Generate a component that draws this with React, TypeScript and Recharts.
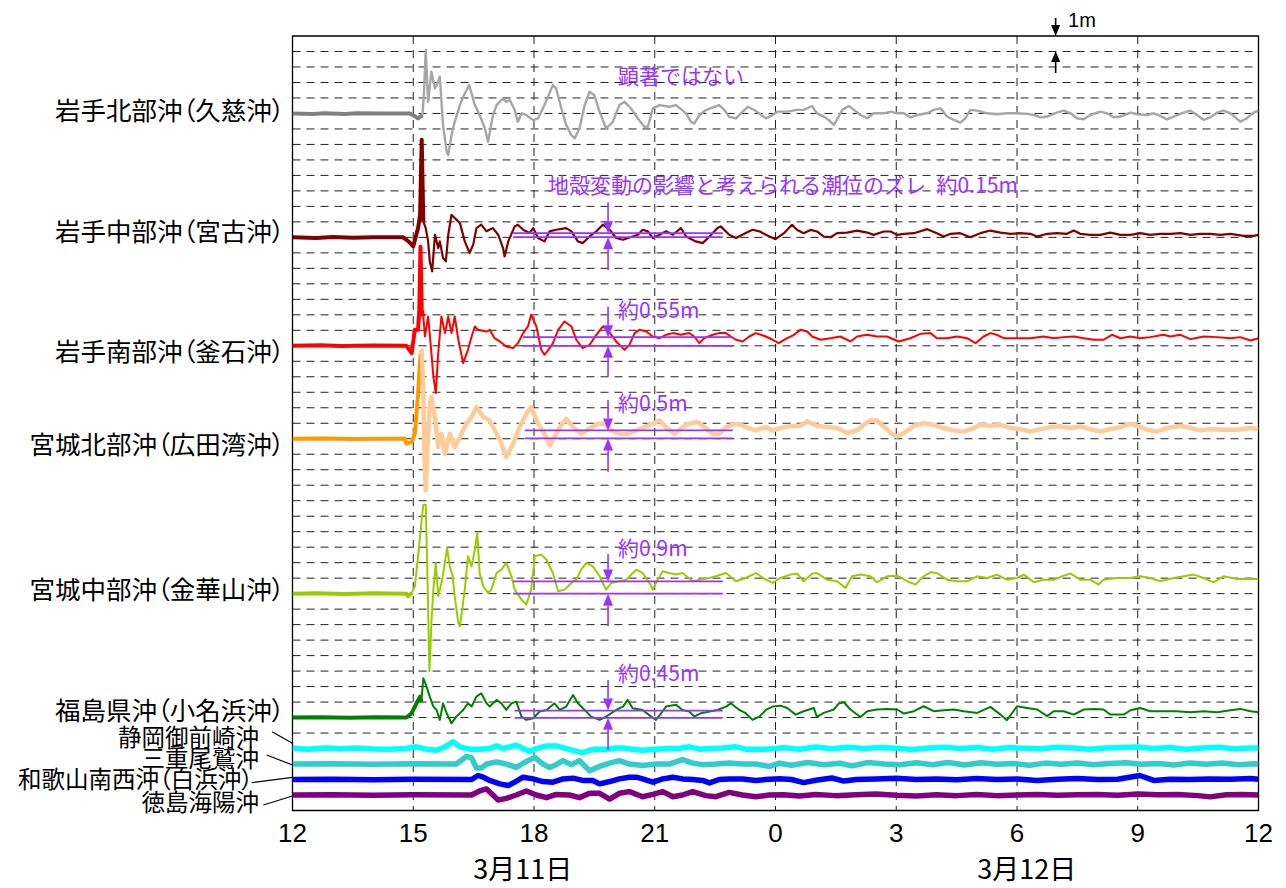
import React from 'react';
import {
  LineChart,
  Line,
  XAxis,
  YAxis,
  CartesianGrid,
  ReferenceLine,
  ReferenceDot,
  ReferenceArea,
} from 'recharts';

type P = [number, number];

// ---- time axis: hours since 3/11 12:00 ----
const TIME_TICKS = [0, 3, 6, 9, 12, 15, 18, 21, 24];
const TIME_LABELS = ['12', '15', '18', '21', '0', '3', '6', '9', '12'];
const DATE_LABELS = ['3月11日', '3月12日'];
const DATE_POS: P[] = [[5.72, -3.78], [18.24, -3.78]];
const GRID_Y = Array.from({ length: 45 }, (_, i) => i + 5);
const GRID_X = [3, 6, 9, 12, 15, 18, 21];

// ---- stations ----
const STATION_NAMES = [
  '岩手北部沖（久慈沖）',
  '岩手中部沖（宮古沖）',
  '岩手南部沖（釜石沖）',
  '宮城北部沖（広田湾沖）',
  '宮城中部沖（金華山沖）',
  '福島県沖（小名浜沖）',
  '静岡御前崎沖',
  '三重尾鷲沖',
  '和歌山南西沖（白浜沖）',
  '徳島海陽沖',
];
const STATION_BASES = [45, 37, 30, 24, 14, 6, 4, 3, 2, 1];
const SPLIT_TIMES: (number | null)[] = [3.23, 3.25, 3.25, 3.18, 2.96, 3.2, null, null, null, null];

// tide anomaly (m) [hour, metres]
const KUJI: P[] = [[0,0],[0.5,-0.04],[0.8,0.02],[1.3,-0.04],[1.6,0.01],[2.2,0],[2.92,0],[3.05,-0.2],[3.12,-0.32],[3.23,-0.1],[3.27,1.5],[3.31,4.09],[3.37,0.75],[3.45,2.69],[3.54,1.61],[3.62,2.04],[3.66,2.37],[3.74,-0.75],[3.83,-2.47],[3.87,-2.69],[3.95,-1.4],[4.03,-0.54],[4.16,0.54],[4.24,1.08],[4.39,1.83],[4.53,0.54],[4.65,-0.11],[4.78,-0.97],[4.86,-1.83],[4.98,-0.11],[5.07,0.54],[5.23,0.97],[5.31,0.75],[5.4,0.86],[5.52,0.22],[5.6,-0.54],[5.69,0],[5.81,-0.11],[5.98,-0.43],[6.1,-0.32],[6.26,0.54],[6.47,1.83],[6.55,1.61],[6.68,0.32],[6.8,-0.75],[6.93,-1.4],[7.01,-1.61],[7.13,-0.97],[7.26,0.54],[7.38,1.4],[7.5,1.18],[7.63,0.11],[7.79,-0.97],[7.96,-0.54],[8.12,0.54],[8.25,0.75],[8.41,0.32],[8.58,-0.32],[8.74,-0.86],[8.83,-0.86],[8.95,0.32],[9.12,0.54],[9.36,0.43],[9.53,0.54],[9.78,0],[9.9,-0.54],[9.98,-0.65],[10.11,-0.11],[10.27,0.22],[10.48,0.43],[10.6,0.54],[10.73,0.22],[10.85,-0.22],[11.02,-0.32],[11.14,0],[11.31,0.43],[11.47,0.22],[11.6,0],[11.76,-0.32],[11.93,-0.11],[12.04,0.12],[12.29,0.12],[12.54,0.23],[12.7,0.23],[12.91,0.48],[13.03,0.01],[13.2,-0.2],[13.32,-0.42],[13.45,-0.74],[13.57,-0.2],[13.66,0.23],[13.82,0.48],[13.95,0.23],[14.11,-0.1],[14.28,-0.31],[14.44,0.01],[14.69,0.01],[14.86,0.12],[15.02,0.01],[15.19,0.01],[15.35,-0.25],[15.52,-0.1],[15.77,0.01],[15.93,0.23],[16.1,0.33],[16.26,-0.2],[16.43,-0.42],[16.59,-0.59],[16.72,-0.31],[16.84,0.23],[17.01,0.18],[17.26,0.01],[17.5,-0.05],[17.75,0.01],[18,0.01],[18.25,-0.03],[18.42,-0.1],[18.58,-0.25],[18.75,-0.2],[18.99,0.05],[19.16,0.18],[19.33,0.01],[19.49,-0.31],[19.66,-0.38],[19.82,-0.1],[20.07,0.12],[20.24,0.01],[20.4,-0.25],[20.57,-0.2],[20.82,0.05],[20.98,-0.05],[21.23,-0.1],[21.4,0.01],[21.56,-0.16],[21.73,-0.38],[21.89,-0.2],[22.14,0.05],[22.31,0.18],[22.47,-0.1],[22.64,-0.42],[22.8,-0.25],[22.97,0.05],[23.13,0.18],[23.3,0.01],[23.55,-0.53],[23.71,-0.31],[23.88,0.05],[24,0.18]];

const MIYAKO: P[] = [[0,0],[0.6,-0.04],[1,0.02],[1.5,-0.03],[2,0],[2.75,0],[2.9,-0.3],[3,-0.58],[3.12,0.6],[3.17,1.46],[3.21,6.3],[3.25,1.03],[3.31,0.6],[3.37,-0.26],[3.41,-1.55],[3.47,-2.19],[3.54,0.17],[3.62,-0.69],[3.66,-0.26],[3.74,-1.33],[3.81,-1.55],[3.87,0.17],[3.95,1.46],[4.03,1.25],[4.16,0.92],[4.28,-0.26],[4.4,-1.01],[4.49,-0.47],[4.57,0.6],[4.69,0.82],[4.82,0.39],[4.98,0.6],[5.11,0.17],[5.23,-0.69],[5.27,-1.23],[5.36,-0.26],[5.52,0.71],[5.6,0.82],[5.73,0.49],[5.89,0.28],[5.98,0.6],[6.1,-0.04],[6.26,-0.26],[6.39,0.39],[6.55,0.49],[6.8,0.6],[6.93,0.39],[7.09,-0.26],[7.21,-0.37],[7.38,0.06],[7.55,0.39],[7.71,0.82],[7.88,0.49],[8.04,-0.04],[8.21,-0.15],[8.45,0.06],[8.58,0.17],[8.7,0.49],[8.83,0.39],[8.95,-0.04],[9.12,0.17],[9.28,0.39],[9.45,0.17],[9.65,0.6],[9.78,0.06],[10.02,-0.26],[10.19,-0.37],[10.36,0.06],[10.56,0.6],[10.64,0.71],[10.85,0.17],[11.02,-0.04],[11.26,0.28],[11.43,0.49],[11.6,0.39],[11.76,0.17],[12,-0.12],[12.21,0.27],[12.41,0.81],[12.54,0.48],[12.7,0.27],[12.87,0.48],[13.03,0.38],[13.2,0.05],[13.37,0.01],[13.53,0.27],[13.78,0.31],[14.03,0.44],[14.28,0.31],[14.44,0.16],[14.69,0.38],[14.86,0.38],[15.02,0.16],[15.19,0.23],[15.44,0.27],[15.77,0.53],[16.01,0.27],[16.18,0.05],[16.35,0.23],[16.59,0.27],[16.84,0.01],[17.09,0.27],[17.34,0.44],[17.59,0.31],[17.84,0.23],[18.08,0.27],[18.33,0.23],[18.5,0.05],[18.75,0.23],[18.99,0.27],[19.24,0.23],[19.41,0.44],[19.57,0.23],[19.82,0.16],[20.07,0.16],[20.32,0.31],[20.57,0.16],[20.82,0.16],[21.06,0.27],[21.31,0.16],[21.56,0.23],[21.81,0.23],[22.06,0.27],[22.31,0.16],[22.55,0.23],[22.8,0.23],[23.05,0.16],[23.3,0.23],[23.63,0.1],[23.88,0.1],[24,0.16]];

const KAMAISHI: P[] = [[0,0],[0.7,0.03],[1.2,-0.02],[2,0.02],[2.83,0],[2.96,-0.47],[3.04,1.03],[3.12,1.03],[3.15,2.3],[3.18,6.4],[3.21,2.3],[3.25,1.89],[3.29,0.6],[3.37,1.89],[3.43,0.17],[3.5,-1.98],[3.56,-3.05],[3.62,-0.47],[3.7,1.89],[3.79,0.82],[3.87,1.89],[3.95,0.82],[4.03,1.89],[4.12,0.39],[4.24,-1.12],[4.36,-0.26],[4.45,0.6],[4.53,1.25],[4.61,1.03],[4.82,0.92],[4.9,1.03],[5.02,0.49],[5.15,0.28],[5.31,-0.04],[5.48,-0.15],[5.6,0.17],[5.73,0.82],[5.85,1.25],[5.93,2],[6.06,1.25],[6.18,-0.26],[6.26,-0.58],[6.39,-0.15],[6.47,0.17],[6.6,1.03],[6.76,1.57],[6.93,1.25],[7.05,0.39],[7.21,-0.15],[7.38,0.06],[7.55,0.71],[7.71,1.25],[7.83,1.03],[8.04,0.28],[8.25,-0.26],[8.37,0.06],[8.5,0.82],[8.62,1.03],[8.79,0.92],[8.95,0.6],[9.12,0.49],[9.28,0.71],[9.45,0.82],[9.65,0.71],[9.86,0.82],[9.98,0.6],[10.11,0.17],[10.23,0.49],[10.44,0.71],[10.6,0.82],[10.77,0.82],[10.89,0.6],[11.02,0.39],[11.18,0.28],[11.35,0.6],[11.51,0.82],[11.64,0.71],[11.76,0.6],[11.93,0.39],[12.08,0.17],[12.29,0.49],[12.46,0.71],[12.62,1.03],[12.79,0.92],[12.91,0.6],[13.12,0.39],[13.37,0.49],[13.61,0.6],[13.86,0.28],[14.03,0.6],[14.28,0.71],[14.52,0.6],[14.77,0.6],[15.06,0.28],[15.35,0.49],[15.6,0.77],[15.85,0.82],[16.01,0.49],[16.26,0.49],[16.51,0.6],[16.76,0.49],[16.97,0.17],[17.17,0.6],[17.34,0.82],[17.5,0.71],[17.67,0.49],[18,0.49],[18.33,0.49],[18.66,0.6],[18.91,0.49],[19.16,0.56],[19.41,0.6],[19.66,0.49],[19.91,0.39],[20.15,0.39],[20.36,0.71],[20.57,0.49],[20.82,0.6],[21.06,0.49],[21.31,0.56],[21.64,0.71],[21.81,0.6],[22.06,0.71],[22.31,0.43],[22.64,0.6],[22.97,0.56],[23.3,0.49],[23.55,0.56],[23.8,0.34],[24,0.49]];

const HIROTA: P[] = [[0,0],[0.8,0.02],[1.5,-0.02],[2.2,0],[2.79,0],[2.83,-0.32],[2.96,-0.22],[3.04,0.32],[3.12,2.9],[3.18,5.48],[3.21,5.7],[3.25,2.9],[3.28,-1.4],[3.31,-3.33],[3.36,-0.32],[3.41,2.26],[3.45,2.69],[3.54,1.4],[3.62,-0.54],[3.7,0.32],[3.79,-0.97],[3.91,0.32],[4.03,-0.54],[4.16,0.11],[4.32,0.97],[4.45,1.4],[4.57,2.04],[4.74,1.4],[4.9,1.18],[5.07,0.32],[5.19,-0.32],[5.31,-1.18],[5.48,-0.32],[5.64,0.75],[5.81,1.61],[5.93,2.04],[6.1,0.97],[6.26,0.32],[6.39,-0.43],[6.51,0.11],[6.64,0.75],[6.8,1.29],[6.97,0.75],[7.17,0.32],[7.38,0.65],[7.59,0.97],[7.75,0.97],[7.92,0.54],[8.12,0.32],[8.33,0.32],[8.54,0.54],[8.74,0.75],[8.95,0.97],[9.12,1.18],[9.28,0.75],[9.49,0.32],[9.69,0.75],[9.86,0.97],[10.07,1.08],[10.23,0.75],[10.44,0.32],[10.6,0.32],[10.77,0.75],[11.02,0.97],[11.18,0.86],[11.35,0.65],[11.51,0.54],[11.76,0.75],[11.93,0.54],[12.12,0.69],[12.37,0.8],[12.62,0.84],[12.79,1.12],[13.03,0.84],[13.28,0.75],[13.53,0.69],[13.78,0.37],[14.03,0.54],[14.19,0.9],[14.36,1.18],[14.52,1.18],[14.69,0.8],[14.86,0.37],[15.02,0.15],[15.19,0.37],[15.44,0.84],[15.68,1.01],[15.93,0.9],[16.18,0.69],[16.43,0.54],[16.68,0.47],[16.93,0.69],[17.09,0.9],[17.34,0.84],[17.59,0.9],[17.84,0.69],[18.08,0.62],[18.33,0.47],[18.58,0.62],[18.83,0.75],[19.08,0.8],[19.33,0.69],[19.57,0.8],[19.82,0.62],[20.07,0.47],[20.32,0.62],[20.57,0.75],[20.82,0.97],[20.98,0.84],[21.23,0.58],[21.48,0.47],[21.73,0.69],[22.06,0.84],[22.31,0.69],[22.55,0.54],[22.8,0.62],[23.13,0.58],[23.47,0.58],[23.8,0.69],[24,0.62]];

const KINKASAN: P[] = [[0,0],[0.6,0.03],[1.3,-0.02],[2,0.02],[2.83,0],[2.87,-0.17],[2.96,0.04],[3.04,0.47],[3.12,2.41],[3.21,4.77],[3.25,5.74],[3.31,5.74],[3.36,0.26],[3.4,-5.01],[3.43,-3.4],[3.45,-1.89],[3.5,0.26],[3.56,1.98],[3.62,-0.17],[3.7,0.69],[3.76,1.55],[3.84,2.95],[3.91,1.76],[3.98,1.12],[4.03,-0.17],[4.12,-1.89],[4.16,-2.11],[4.28,0.26],[4.36,2.41],[4.45,1.76],[4.53,2.84],[4.59,3.91],[4.65,1.33],[4.74,0.47],[4.86,0.04],[4.94,0.26],[5.07,1.33],[5.19,1.55],[5.31,1.98],[5.44,1.12],[5.52,0.26],[5.69,-0.39],[5.81,-0.71],[5.93,0.26],[6.02,2.41],[6.18,2.52],[6.31,2.19],[6.47,1.33],[6.6,0.15],[6.76,0.26],[6.93,0.69],[7.05,0.9],[7.17,1.55],[7.3,1.98],[7.46,1.76],[7.63,1.12],[7.79,0.26],[7.92,0.69],[8.12,0.8],[8.29,0.9],[8.54,1.55],[8.7,1.33],[8.87,0.69],[8.95,0.26],[9.07,0.9],[9.2,1.44],[9.36,1.33],[9.53,1.23],[9.69,1.33],[9.94,0.8],[10.11,0.9],[10.36,1.01],[10.52,1.12],[10.77,1.33],[11.02,0.8],[11.26,1.01],[11.51,1.33],[11.76,0.9],[11.93,0.69],[12.12,1.01],[12.37,1.23],[12.54,1.29],[12.7,0.8],[12.91,1.29],[13.03,1.33],[13.28,0.9],[13.53,0.8],[13.74,0.37],[13.9,1.12],[14.11,1.23],[14.36,1.12],[14.52,0.73],[14.77,1.12],[15.02,1.16],[15.27,0.8],[15.48,0.58],[15.68,1.12],[15.85,1.38],[16.01,1.33],[16.26,0.9],[16.51,0.8],[16.76,0.8],[17.01,1.12],[17.26,1.01],[17.5,1.23],[17.75,0.9],[18,1.01],[18.17,1.23],[18.42,0.73],[18.66,0.9],[18.91,0.9],[19.16,1.16],[19.33,1.29],[19.57,0.9],[19.82,0.9],[20.03,0.58],[20.15,0.9],[20.49,1.01],[20.82,1.01],[21.06,1.12],[21.31,1.01],[21.56,0.8],[21.89,1.01],[22.14,1.12],[22.39,1.23],[22.64,1.01],[22.89,0.73],[23.13,1.12],[23.47,0.95],[23.8,0.95],[24,0.95]];

const ONAHAMA: P[] = [[0,0],[0.7,0.02],[1.4,-0.02],[2.1,0.02],[2.83,0],[2.96,0.28],[3.08,0.92],[3.17,1.35],[3.2,1],[3.25,2.54],[3.33,2],[3.41,1.35],[3.5,0.71],[3.58,0.49],[3.66,-0.15],[3.74,0.92],[3.83,0.28],[3.95,-0.37],[4.07,0.06],[4.24,0.49],[4.36,0.92],[4.45,0.71],[4.57,1.35],[4.69,1.57],[4.82,0.92],[4.9,0.71],[5.07,1.14],[5.19,0.92],[5.31,0.49],[5.44,0.92],[5.56,1.03],[5.69,0.06],[5.81,-0.15],[5.98,-0.04],[6.14,0.39],[6.31,0.49],[6.51,0.92],[6.64,0.49],[6.8,0.71],[6.97,1.46],[7.09,0.92],[7.26,0.49],[7.42,0.06],[7.63,-0.15],[7.79,0.06],[8.04,0.49],[8.21,0.71],[8.33,1.14],[8.45,0.6],[8.7,0.49],[8.91,0.06],[9.03,-0.15],[9.16,0.28],[9.28,0.71],[9.53,0.82],[9.69,0.49],[9.86,0.39],[9.98,0.06],[10.15,0.28],[10.36,0.39],[10.56,0.49],[10.77,0.71],[10.89,0.92],[11.1,0.49],[11.26,0.28],[11.43,-0.15],[11.6,0.06],[11.76,0.49],[11.93,0.71],[12.12,0.77],[12.29,0.62],[12.5,0.19],[12.7,0.41],[12.95,0.62],[13.03,0.04],[13.2,0.3],[13.45,0.52],[13.57,0.9],[13.7,0.99],[13.86,0.52],[14.11,0.04],[14.28,0.41],[14.52,0.52],[14.77,0.56],[15.02,0.52],[15.19,0.26],[15.44,0.41],[15.68,0.73],[15.93,0.41],[16.18,0.47],[16.43,0.52],[16.68,0.41],[17.01,0.3],[17.34,0.69],[17.59,0.19],[17.75,-0.17],[18,0.73],[18.25,0.62],[18.5,0.52],[18.75,0.09],[18.91,0.41],[19.16,0.41],[19.41,0.19],[19.66,0.52],[19.91,0.56],[20.15,0.52],[20.32,0.19],[20.65,0.19],[20.82,0.47],[21.06,0.62],[21.31,0.41],[21.64,0.41],[21.97,0.41],[22.31,0.34],[22.64,0.41],[22.97,0.34],[23.3,0.47],[23.55,0.56],[23.8,0.41],[24,0.34]];

const OMAEZAKI: P[] = [[0,0.02],[0.4,-0.04],[0.8,0.03],[1.2,-0.02],[1.6,0.04],[2,-0.03],[2.42,-0.04],[2.83,0],[3.08,0.11],[3.33,-0.04],[3.58,-0.11],[3.79,0.11],[3.99,0.43],[4.16,0.11],[4.4,-0.04],[4.65,-0.04],[4.9,0],[5.07,0.17],[5.23,0],[5.4,0.11],[5.56,0.22],[5.73,0],[5.89,-0.17],[6.06,0],[6.31,0.17],[6.55,0.17],[6.8,0],[7.05,-0.17],[7.21,-0.26],[7.38,-0.11],[7.55,-0.04],[7.79,-0.04],[8.04,0.04],[8.21,0.04],[8.45,-0.04],[8.7,-0.11],[9.03,-0.04],[9.36,0],[9.61,0],[9.86,0.11],[10.11,-0.04],[10.36,0],[10.69,0.04],[11.02,0.11],[11.26,-0.04],[11.51,-0.04],[11.76,-0.04],[12.2,0.05],[12.6,-0.05],[13,0.1],[13.4,-0.02],[13.8,0.08],[14.2,0],[14.6,0.06],[15,0.02],[15.4,-0.06],[15.8,0.04],[16.2,0.08],[16.6,0],[17,0.06],[17.4,-0.04],[17.8,0.06],[18.2,0.02],[18.6,-0.02],[19,0.08],[19.4,0.04],[19.8,-0.04],[20.2,0.04],[20.6,0.06],[21,0.1],[21.4,0],[21.8,0.06],[22.2,-0.04],[22.6,0.04],[23,0.08],[23.4,-0.02],[23.8,0.04],[24,0.04]];

const OWASE: P[] = [[0,0],[1,0.02],[2,-0.02],[3,0.02],[4.07,0],[4.32,0.49],[4.45,0.39],[4.57,-0.26],[4.69,-0.26],[4.82,0],[5.07,0.13],[5.31,0],[5.56,-0.22],[5.81,0.17],[6.02,0.43],[6.22,0],[6.39,-0.22],[6.55,-0.04],[6.72,0.22],[6.93,-0.04],[7.13,0.22],[7.38,-0.43],[7.63,-0.15],[7.88,0.06],[8.12,0.22],[8.37,0],[8.7,-0.09],[9.03,0],[9.36,0],[9.69,0.28],[9.94,0.06],[10.19,-0.04],[10.52,0],[10.85,0.06],[11.18,0],[11.51,0],[11.84,-0.15],[12.1,0.05],[12.4,-0.08],[12.8,0.1],[13.2,-0.05],[13.6,0.05],[13.9,-0.12],[14.3,0.1],[14.7,0],[15.1,-0.05],[15.5,0.08],[15.9,-0.04],[16.3,0.1],[16.7,-0.06],[17.1,0.08],[17.5,-0.02],[17.9,0.04],[18.3,-0.08],[18.7,0.06],[19.1,-0.02],[19.5,0.06],[19.9,-0.04],[20.3,0.04],[20.7,0.08],[21.1,-0.02],[21.5,0.04],[21.9,-0.06],[22.3,0.06],[22.7,-0.02],[23.1,0.06],[23.5,-0.04],[23.9,0.02],[24,0]];

const SHIRAHAMA: P[] = [[0,0],[1,0.02],[2,-0.02],[3,0.02],[4.45,0],[4.61,0.26],[4.74,0.15],[4.9,-0.06],[5.15,-0.28],[5.36,-0.39],[5.52,-0.17],[5.73,0.15],[5.98,0.04],[6.22,-0.13],[6.47,-0.17],[6.72,0.04],[6.97,0.09],[7.21,-0.06],[7.46,-0.06],[7.63,-0.28],[7.88,-0.13],[8.12,0.04],[8.37,0.15],[8.54,0.15],[8.7,0.04],[8.95,-0.17],[9.2,0.04],[9.45,0.15],[9.69,0.04],[9.94,0],[10.19,-0.06],[10.36,-0.22],[10.6,0],[10.85,0.04],[11.18,0.04],[11.51,-0.06],[11.76,0],[12.1,0.05],[12.4,0],[12.7,-0.2],[13,-0.05],[13.4,0.1],[13.7,-0.1],[14,0],[14.5,0.04],[15,0.08],[15.5,0],[16,0.04],[16.5,-0.02],[17,0.06],[17.5,0],[18,0.04],[18.5,-0.06],[19,0.02],[19.5,0.06],[20,0],[20.5,0.02],[21.05,0.26],[21.4,-0.06],[21.8,0.02],[22.3,0],[22.8,0.04],[23.3,0.02],[23.8,0.06],[24,0.02]];

const KAIYO: P[] = [[0,0],[1,0.02],[2,-0.02],[3,0.02],[4.45,0],[4.65,0.26],[4.82,0.39],[4.98,0],[5.11,-0.32],[5.31,-0.22],[5.56,0],[5.81,0.26],[6.06,0],[6.31,-0.17],[6.55,0.04],[6.88,0],[7.13,-0.17],[7.38,0.11],[7.63,0.11],[7.88,-0.26],[8.12,0.11],[8.37,0.22],[8.7,-0.11],[8.95,0.04],[9.2,0.22],[9.45,-0.11],[9.69,0],[9.94,0.22],[10.27,-0.04],[10.52,-0.11],[10.85,0.17],[11.18,0],[11.51,-0.11],[11.84,0],[12.2,0.02],[12.6,-0.06],[13,0.04],[13.5,-0.04],[14,0.02],[14.5,0.06],[15,-0.02],[15.5,-0.06],[16,0.02],[16.5,-0.04],[17,0.04],[17.5,-0.04],[18,0],[18.5,0.04],[19,-0.02],[19.5,0.02],[20,0.04],[20.5,-0.02],[21,0.06],[21.5,0.02],[22,0.04],[22.5,-0.04],[22.8,-0.12],[23.2,0.02],[23.6,0.04],[24,0]];

const SERIES: P[][] = [KUJI, MIYAKO, KAMAISHI, HIROTA, KINKASAN, ONAHAMA, OMAEZAKI, OWASE, SHIRAHAMA, KAIYO];

// ---- annotations ----
const NOTE_TEXTS = ['顕著ではない', '地殻変動の影響と考えられる潮位のズレ\u2002約0.15m', '約0.55m', '約0.5m', '約0.9m', '約0.45m'];
const NOTE_POS: P[] = [[8.09, 47.35], [6.35, 40.32], [8.09, 32.25], [8.09, 26.24], [8.09, 16.88], [8.09, 8.81]];
// [t start, t end, upper level, lower level, arrow top, arrow bottom]
const SHIFT_MARKS: number[][] = [
  [5.48, 10.69, 37.27, 37.01, 39.27, 34.89],
  [5.72, 10.94, 30.56, 30.0, 32.52, 28.0],
  [5.77, 10.94, 24.54, 24.02, 26.5, 21.87],
  [5.48, 10.69, 14.79, 14.0, 16.56, 11.91],
  [5.52, 10.69, 6.45, 5.98, 8.42, 3.9],
];
const SHIFT_ARROW_T = 7.84;
const SCALE_ARROW_T = 18.96;
const SCALE_MARK = [51.17, 50, 47.61, 49.03]; // down from, to; up from, to
const SCALE_TEXT: P = [19.27, 51.03];

// ---- styles ----
const CJK = "'Noto Sans CJK JP', 'Noto Sans CJK SC', sans-serif";
const LATIN = "'Liberation Sans', Arial, sans-serif";
const PURPLE = '#9933ff';
const LINE_STYLES = [
  { pre: '#808080', post: '#a6a6a6', preW: 4, postW: 2.4 },
  { pre: '#800000', post: '#800000', preW: 4, postW: 2.2 },
  { pre: '#ff0000', post: '#ff0000', preW: 4, postW: 2 },
  { pre: '#ff9900', post: '#ffcc99', preW: 4, postW: 4.5 },
  { pre: '#99cc00', post: '#99cc00', preW: 4, postW: 2 },
  { pre: '#008000', post: '#008000', preW: 4, postW: 2 },
  { pre: '#00ffff', post: '#00ffff', preW: 5.5, postW: 5.5 },
  { pre: '#33cccc', post: '#33cccc', preW: 5.5, postW: 5.5 },
  { pre: '#0000ff', post: '#0000ff', preW: 5.5, postW: 5.5 },
  { pre: '#800080', post: '#800080', preW: 5.5, postW: 5.5 },
];
// label layout relative to axis x and baseline y
const LABEL_LAYOUT: { dx: number; dy: number; size: number; leader?: number[] }[] = [
  { dx: -8, dy: -2, size: 25.5 },
  { dx: -8, dy: -5, size: 25.5 },
  { dx: -8, dy: 6, size: 25.5 },
  { dx: -8, dy: 6, size: 25.5 },
  { dx: -8, dy: -4, size: 25.5 },
  { dx: -8, dy: -6.5, size: 25.5 },
  { dx: -33.5, dy: -11, size: 23.5, leader: [-20.5, -16.8, 0, -5.2] },
  { dx: -33.5, dy: -5.5, size: 23.5, leader: [-25.8, -9, 0, 1] },
  { dx: -39.5, dy: 0.5, size: 23.5, leader: [-40.8, 3.2, 0, -2.2] },
  { dx: -33.5, dy: 8, size: 23.5, leader: [-29.2, 10, 0, 1] },
];

const CHART_W = 1270;
const CHART_H = 880;
const MARGIN = { top: 28, right: 19.5, left: 0, bottom: 0 };
const Y_AXIS_W = 284.5;
const X_AXIS_H = 77.5;

function toRows(pts: P[], base: number) {
  return pts.map(([t, v]) => ({ t, v: base + v }));
}

function StationTick(props: any) {
  const { x, y, payload } = props;
  const i = STATION_BASES.indexOf(payload.value);
  if (i < 0) return null;
  const L = LABEL_LAYOUT[i];
  return (
    <g>
      <text x={x + L.dx} y={y + L.dy} dy="0.35em" textAnchor="end" fontSize={L.size} fontFamily={CJK} fill="#000"
        style={{ fontFeatureSettings: '"palt"' }}>
        {STATION_NAMES[i]}
      </text>
      {L.leader && (
        <line x1={x + L.leader[0]} y1={y + L.leader[1]} x2={x + L.leader[2]} y2={y + L.leader[3]} stroke="#000" strokeWidth={1.2} />
      )}
    </g>
  );
}

function TimeTick(props: any) {
  const { x, y, payload } = props;
  const i = TIME_TICKS.indexOf(payload.value);
  return (
    <text x={x} y={y + 22.5} dy="0.35em" textAnchor="middle" fontSize={26} fontFamily={LATIN} fill="#000">
      {TIME_LABELS[i]}
    </text>
  );
}

const arrowShape = (color: string, headLen: number, headHalf: number) => (p: any) => {
  const { x1, y1, x2, y2 } = p;
  const dir = y2 > y1 ? 1 : -1;
  return (
    <g>
      <line x1={x1} y1={y1} x2={x2} y2={y2 - dir * headLen} stroke={color} strokeWidth={1.6} />
      <polygon points={`${x2},${y2} ${x2 - headHalf},${y2 - dir * headLen} ${x2 + headHalf},${y2 - dir * headLen}`} fill={color} />
    </g>
  );
};

const textShape = (txt: string, size: number, color: string, family: string, anchor: string) => (p: any) => (
  <text x={p.cx} y={p.cy} dy="0.35em" textAnchor={anchor} fontSize={size} fontFamily={family} fill={color}>
    {txt}
  </text>
);

export default function App() {
  const lines: React.ReactNode[] = [];
  SERIES.forEach((pts, i) => {
    const base = STATION_BASES[i];
    const split = SPLIT_TIMES[i];
    const st = LINE_STYLES[i];
    if (split == null) {
      lines.push(
        <Line key={`s${i}`} data={toRows(pts, base)} dataKey="v" type="linear" dot={false} activeDot={false}
          stroke={st.pre} strokeWidth={st.preW} strokeLinejoin="round" isAnimationActive={false} />
      );
    } else {
      lines.push(
        <Line key={`pre${i}`} data={toRows(pts.filter(([t]) => t <= split), base)} dataKey="v" type="linear" dot={false} activeDot={false}
          stroke={st.pre} strokeWidth={st.preW} strokeLinejoin="round" isAnimationActive={false} />
      );
      lines.push(
        <Line key={`post${i}`} data={toRows(pts.filter(([t]) => t >= split), base)} dataKey="v" type="linear" dot={false} activeDot={false}
          stroke={st.post} strokeWidth={st.postW} strokeLinejoin="round" isAnimationActive={false} />
      );
    }
  });

  const purpleArrow = arrowShape(PURPLE, 12, 5);
  const blackArrow = arrowShape('#000', 11, 4.5);

  return (
    <div style={{ width: CHART_W, height: CHART_H }}>
      <LineChart width={CHART_W} height={CHART_H} margin={MARGIN}>
        <CartesianGrid horizontalValues={GRID_Y} verticalValues={GRID_X} stroke="#222" strokeDasharray="8 6" strokeWidth={1} />
        <XAxis dataKey="t" type="number" domain={[0, 24]} ticks={TIME_TICKS} interval={0} height={X_AXIS_H}
          axisLine={false} tickLine={false} tickSize={0} tickMargin={0} tick={<TimeTick />} allowDataOverflow />
        <YAxis type="number" domain={[0, 50]} ticks={STATION_BASES} interval={0} width={Y_AXIS_W}
          axisLine={false} tickLine={false} tickSize={0} tickMargin={0} tick={<StationTick />} allowDataOverflow />
        {lines}
        <ReferenceArea x1={0} x2={24} y1={0} y2={50} fill="none" fillOpacity={0} stroke="#000" strokeWidth={1.3} ifOverflow="visible" />
        {SHIFT_MARKS.map((m, i) => (
          <ReferenceLine key={`hi${i}`} segment={[{ x: m[0], y: m[2] }, { x: m[1], y: m[2] }]} stroke={PURPLE} strokeWidth={1.7} ifOverflow="visible" />
        ))}
        {SHIFT_MARKS.map((m, i) => (
          <ReferenceLine key={`lo${i}`} segment={[{ x: m[0], y: m[3] }, { x: m[1], y: m[3] }]} stroke={PURPLE} strokeWidth={1.7} ifOverflow="visible" />
        ))}
        {SHIFT_MARKS.map((m, i) => (
          <ReferenceLine key={`ad${i}`} segment={[{ x: SHIFT_ARROW_T, y: m[4] }, { x: SHIFT_ARROW_T, y: m[2] }]} ifOverflow="visible" shape={purpleArrow} />
        ))}
        {SHIFT_MARKS.map((m, i) => (
          <ReferenceLine key={`au${i}`} segment={[{ x: SHIFT_ARROW_T, y: m[5] }, { x: SHIFT_ARROW_T, y: m[3] }]} ifOverflow="visible" shape={purpleArrow} />
        ))}
        <ReferenceLine segment={[{ x: SCALE_ARROW_T, y: SCALE_MARK[0] }, { x: SCALE_ARROW_T, y: SCALE_MARK[1] }]} ifOverflow="visible" shape={blackArrow} />
        <ReferenceLine segment={[{ x: SCALE_ARROW_T, y: SCALE_MARK[2] }, { x: SCALE_ARROW_T, y: SCALE_MARK[3] }]} ifOverflow="visible" shape={blackArrow} />
        <ReferenceDot x={SCALE_TEXT[0]} y={SCALE_TEXT[1]} ifOverflow="visible" shape={textShape('1m', 20, '#000', LATIN, 'start')} />
        {NOTE_TEXTS.map((txt, i) => (
          <ReferenceDot key={`n${i}`} x={NOTE_POS[i][0]} y={NOTE_POS[i][1]} ifOverflow="visible" shape={textShape(txt, 21, PURPLE, CJK, 'start')} />
        ))}
        {DATE_LABELS.map((txt, i) => (
          <ReferenceDot key={`d${i}`} x={DATE_POS[i][0]} y={DATE_POS[i][1]} ifOverflow="visible" shape={textShape(txt, 27, '#000', CJK, 'middle')} />
        ))}
      </LineChart>
    </div>
  );
}
